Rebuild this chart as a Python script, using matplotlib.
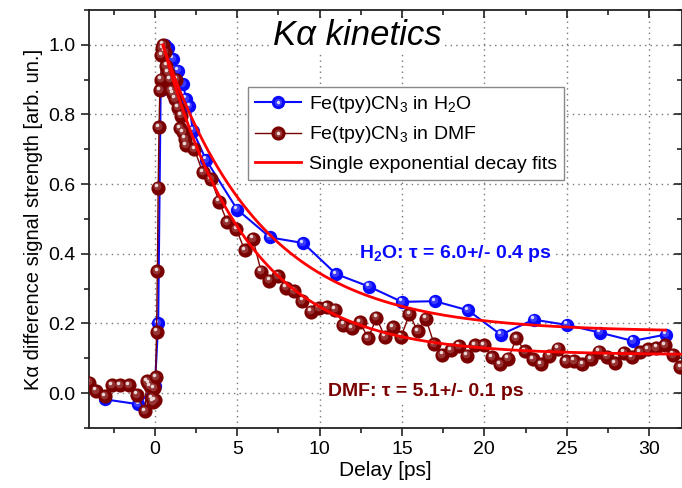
import numpy as np
import matplotlib
matplotlib.use("Agg")
import matplotlib.pyplot as plt
import matplotlib.transforms as mtransforms
from matplotlib.lines import Line2D
from matplotlib.legend_handler import HandlerTuple

plt.rcParams['font.family'] = ['Liberation Sans', 'DejaVu Sans']
plt.rcParams['mathtext.fontset'] = 'custom'
plt.rcParams['mathtext.rm'] = 'Liberation Sans'
plt.rcParams['mathtext.it'] = 'Liberation Sans:italic'
plt.rcParams['mathtext.bf'] = 'Liberation Sans:bold'

# Fe(tpy)CN3 in water
h2o_delay = [-3.0, -1.0, 0.0, 0.2, 0.35, 0.6, 0.8, 1.1, 1.4, 1.7, 1.9, 2.1, 2.3, 3.1,
             5.0, 7.0, 9.0, 11.0, 13.0, 15.0, 17.0, 19.0, 21.0, 23.0, 25.0, 27.0, 29.0, 31.0]
h2o_signal = [-0.018, -0.032, 0.02, 0.2, 0.87, 1.0, 0.99, 0.96, 0.926, 0.888, 0.845, 0.824, 0.754, 0.67,
              0.527, 0.447, 0.431, 0.342, 0.306, 0.262, 0.264, 0.238, 0.168, 0.211, 0.196, 0.174, 0.15, 0.168]

# Fe(tpy)CN3 in DMF
dmf_delay = [-4.0, -3.6, -3.05, -2.6, -2.1, -1.6, -1.1, -0.6, -0.5, -0.4, -0.3, -0.2, -0.1, -0.05, 0.0,
             0.05, 0.1, 0.15, 0.2, 0.25, 0.3, 0.35, 0.4, 0.45, 0.5, 0.6, 0.7, 0.8, 0.9, 1.0,
             1.1, 1.2, 1.3, 1.4, 1.5, 1.6, 1.7, 1.8, 1.9,
             2.4, 2.9, 3.4, 3.9, 4.4, 4.95, 5.45, 5.95, 6.45, 6.95, 7.45, 7.95, 8.45, 8.95,
             9.45, 9.95, 10.45, 10.95, 11.45, 11.95, 12.45, 12.95, 13.45, 13.95, 14.45, 14.95,
             15.45, 15.95, 16.45, 16.95, 17.45, 17.95, 18.45, 18.95, 19.45, 19.95, 20.45, 20.95,
             21.45, 21.95, 22.45, 22.95, 23.45, 23.95, 24.45, 24.95, 25.45, 25.95, 26.45, 26.95,
             27.45, 27.95, 28.45, 28.95, 29.45, 29.95, 30.45, 30.95, 31.45, 31.9]
dmf_signal = [0.03, 0.007, -0.008, 0.023, 0.023, 0.023, -0.005, -0.052, 0.035, 0.028, 0.02, -0.015, -0.025, 0.015, -0.02,
              0.045, 0.176, 0.35, 0.59, 0.763, 0.87, 0.90, 0.97, 0.99, 1.0, 0.98, 0.94, 0.92, 0.90, 0.87,
              0.86, 0.845, 0.90, 0.82, 0.76, 0.797, 0.749, 0.73, 0.711,
              0.70, 0.634, 0.615, 0.55, 0.49, 0.471, 0.41, 0.443, 0.349, 0.323, 0.337, 0.303, 0.294, 0.265,
              0.234, 0.245, 0.248, 0.24, 0.196, 0.187, 0.204, 0.157, 0.217, 0.162, 0.19, 0.162,
              0.227, 0.178, 0.214, 0.141, 0.11, 0.123, 0.136, 0.108, 0.138, 0.138, 0.103, 0.083,
              0.099, 0.158, 0.12, 0.098, 0.083, 0.107, 0.128, 0.092, 0.093, 0.083, 0.098, 0.119,
              0.105, 0.086, 0.116, 0.104, 0.117, 0.126, 0.13, 0.137, 0.11, 0.075]

# single exponential fits: y = c + A*exp(-(t - t0)/tau)
fit_h2o = dict(tau=6.0, amp=0.82, off=0.176, t0=0.5, tend=31.0)
fit_dmf = dict(tau=5.1, amp=0.89, off=0.11, t0=0.5, tend=32.0)

blue = '#0a0aff'
maroon = '#7a0000'

fig = plt.figure(figsize=(6.82, 4.88), dpi=100)
ax = fig.add_axes([0.1305, 0.123, 0.8695, 0.8565])


def shade(c, f):
    c = np.array(matplotlib.colors.to_rgb(c))
    return tuple(c + (1 - c) * f)


def balls(x, y, color, ms, lw, z):
    line, = ax.plot(x, y, '-', color=color, lw=lw, marker='o', ms=ms, mfc=color, mec='none', zorder=z)
    layers = [(0.55, 0.2, -0.010, 0.012), (0.25, 0.85, -0.018, 0.024)]
    proxies = [line]
    for frac, light, dx, dy in layers:
        tr = ax.transData + mtransforms.ScaledTranslation(dx, dy, fig.dpi_scale_trans)
        ax.plot(x, y, 'o', ms=ms * frac, color=shade(color, light), mec='none', transform=tr, zorder=z + 0.1)
        proxies.append(Line2D([], [], ls='none', marker='o', ms=ms * frac, color=shade(color, light), mec='none'))
    return tuple(proxies)


h_blue = balls(h2o_delay, h2o_signal, blue, 9.6, 1.5, 3)
h_dmf = balls(dmf_delay, dmf_signal, maroon, 10.2, 1.0, 4)

for p in (fit_h2o, fit_dmf):
    t = np.linspace(p['t0'], p['tend'], 300)
    ax.plot(t, p['off'] + p['amp'] * np.exp(-(t - p['t0']) / p['tau']), color='#ff0000', lw=2.0, zorder=5)
h_fit = Line2D([], [], color='#ff0000', lw=2.0)

ax.set_xlim(-4, 32)
ax.set_ylim(-0.1, 1.1)
ax.set_xticks([0, 5, 10, 15, 20, 25, 30])
ax.set_xticks(np.arange(-2.5, 32, 5), minor=True)
ax.set_yticks([0.0, 0.2, 0.4, 0.6, 0.8, 1.0])
ax.set_yticks(np.arange(-0.1, 1.11, 0.2), minor=True)
ax.yaxis.set_major_formatter(matplotlib.ticker.FormatStrFormatter('%.1f'))
ax.grid(True, which='major', ls=(0, (1, 3)), color='#777777', lw=1.0)
ax.set_axisbelow(True)

ax.tick_params(which='both', labelsize=14, width=1.2, color='#222222')
ax.tick_params(which='major', length=6)
ax.tick_params(which='minor', length=3.5)
ax.tick_params(axis='x', which='both', top=True, direction='out')
ax.tick_params(axis='y', which='both', right=True, direction='out')
for tk in ax.xaxis.get_major_ticks() + ax.xaxis.get_minor_ticks():
    tk.tick2line.set_marker(matplotlib.lines.TICKDOWN)
for tk in ax.yaxis.get_major_ticks() + ax.yaxis.get_minor_ticks():
    tk.tick2line.set_marker(matplotlib.lines.TICKLEFT)
for s in ax.spines.values():
    s.set_linewidth(1.3)
    s.set_color('#222222')

ax.set_xlabel('Delay [ps]', fontsize=15, labelpad=2)
ax.set_ylabel('K\u03b1 difference signal strength [arb. un.]', fontsize=14.5, labelpad=4)

ax.text(0.452, 0.94, 'K\u03b1 kinetics', transform=ax.transAxes, fontsize=25, style='italic',
        ha='center', va='center', bbox=dict(fc='white', ec='none', pad=0.5), zorder=6)

ax.text(12.4, 0.40, 'H$_\\mathbf{2}$O: \u03c4 = 6.0+/- 0.4 ps', color=blue, fontsize=14, fontweight='bold',
        va='center', ha='left', bbox=dict(fc='white', ec='none', pad=1), zorder=2.5)
ax.text(10.5, 0.006, 'DMF: \u03c4 = 5.1+/- 0.1 ps', color=maroon, fontsize=14, fontweight='bold',
        va='center', ha='left', bbox=dict(fc='white', ec='none', pad=1), zorder=2.5)

leg = ax.legend([h_blue, h_dmf, h_fit],
                ['Fe(tpy)CN$_\\mathregular{3}$ in H$_\\mathregular{2}$O',
                 'Fe(tpy)CN$_\\mathregular{3}$ in DMF',
                 'Single exponential decay fits'],
                handler_map={tuple: HandlerTuple(ndivide=1)},
                loc='upper left', bbox_to_anchor=(0.268, 0.816), borderaxespad=0,
                fontsize=14, handlelength=2.4, handletextpad=0.4, labelspacing=0.5,
                borderpad=0.35, fancybox=False, framealpha=1, edgecolor='#888888')
leg.get_frame().set_linewidth(1.0)
leg.set_zorder(7)

fig.savefig('out.png', dpi=100)
